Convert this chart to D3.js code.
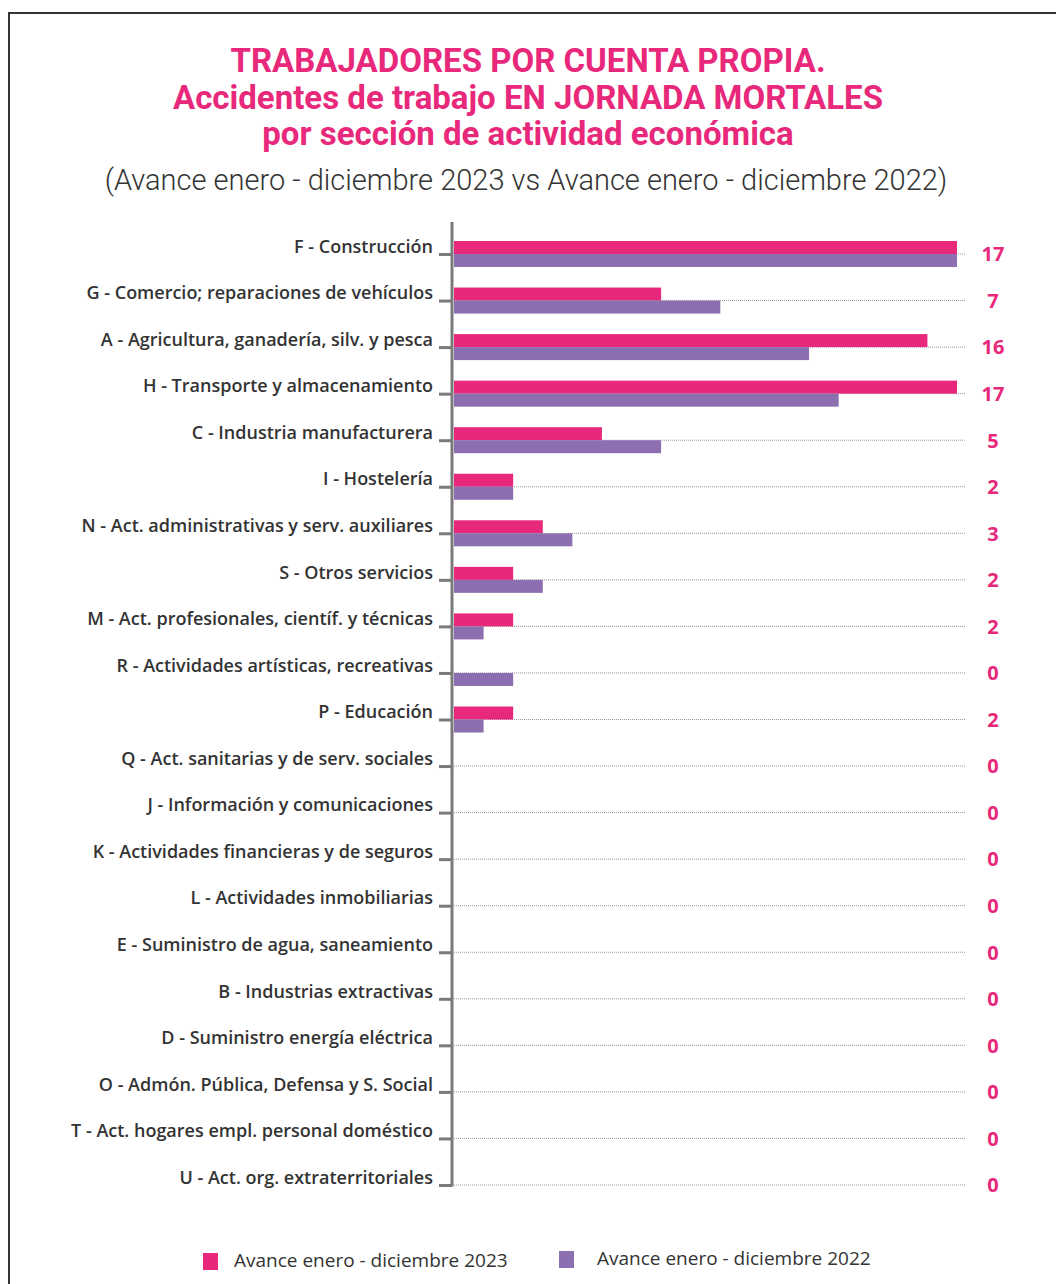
<!DOCTYPE html>
<html>
<head>
<meta charset="utf-8">
<script src="https://cdn.jsdelivr.net/npm/d3@7"></script>
<style>
  body { margin: 0; background: #fff; }
  svg { display: block; }
</style>
</head>
<body>
<div id="chart"></div>
<script>
var categories = [
  "F - Construcción",
  "G - Comercio; reparaciones de vehículos",
  "A - Agricultura, ganadería, silv. y pesca",
  "H - Transporte y almacenamiento",
  "C - Industria manufacturera",
  "I - Hostelería",
  "N - Act. administrativas y serv. auxiliares",
  "S - Otros servicios",
  "M - Act. profesionales, científ. y técnicas",
  "R - Actividades artísticas, recreativas",
  "P - Educación",
  "Q - Act. sanitarias y de serv. sociales",
  "J - Información y comunicaciones",
  "K - Actividades financieras y de seguros",
  "L - Actividades inmobiliarias",
  "E - Suministro de agua, saneamiento",
  "B - Industrias extractivas",
  "D - Suministro energía eléctrica",
  "O - Admón. Pública, Defensa y S. Social",
  "T - Act. hogares empl. personal doméstico",
  "U - Act. org. extraterritoriales"
];
var values2023 = [17, 7, 16, 17, 5, 2, 3, 2, 2, 0, 2, 0, 0, 0, 0, 0, 0, 0, 0, 0, 0];
var values2022 = [17, 9, 12, 13, 7, 2, 4, 3, 1, 2, 1, 0, 0, 0, 0, 0, 0, 0, 0, 0, 0];
var seriesNames = ["Avance enero - diciembre 2023", "Avance enero - diciembre 2022"];
var titleLines = [
  "TRABAJADORES POR CUENTA PROPIA.",
  "Accidentes de trabajo EN JORNADA MORTALES",
  "por sección de actividad económica"
];
var subtitle = "(Avance enero - diciembre 2023 vs  Avance enero - diciembre 2022)";

var W = 1056, H = 1284;
var pink = "#e8287a", purple = "#8c6fb0", textCol = "#333333", axisCol = "#7a7a7a";
var font = "Roboto, 'Noto Sans', sans-serif";
var labelFont = "'Open Sans', 'Noto Sans', sans-serif";

var svg = d3.select("#chart").append("svg")
  .attr("width", W)
  .attr("height", H);

// frame
svg.append("rect")
  .attr("x", 9).attr("y", 13)
  .attr("width", W + 10).attr("height", H + 10)
  .attr("fill", "none")
  .attr("stroke", "#333")
  .attr("stroke-width", 2);

// titles
svg.selectAll("text.title")
  .data(titleLines)
  .enter().append("text")
  .attr("class", "title")
  .attr("x", 528)
  .attr("y", (d, i) => 72 + i * 36.5)
  .attr("text-anchor", "middle")
  .style("font-family", font)
  .style("font-weight", "bold")
  .style("font-size", "33px")
  .attr("fill", pink)
  .text(d => d);

svg.append("text")
  .attr("x", 526)
  .attr("y", 190)
  .attr("text-anchor", "middle")
  .style("font-family", font)
  .style("font-size", "29px")
  .style("font-weight", 300)
  .attr("fill", textCol)
  .text(subtitle);

var x = d3.scaleLinear().domain([0, 17]).range([454, 957]);
var y = d3.scalePoint().domain(categories).range([254, 1185]);
var barH = 13;

// dotted guides
svg.selectAll("line.guide")
  .data(categories)
  .enter().append("line")
  .attr("class", "guide")
  .attr("x1", x(0)).attr("x2", 966)
  .attr("y1", d => y(d)).attr("y2", d => y(d))
  .attr("stroke", "#999")
  .attr("stroke-width", 1)
  .attr("stroke-dasharray", "1,1");

// bars 2023
svg.selectAll("rect.b23")
  .data(categories)
  .enter().append("rect")
  .attr("class", "b23")
  .attr("x", x(0))
  .attr("y", d => y(d) - barH)
  .attr("width", (d, i) => x(values2023[i]) - x(0))
  .attr("height", barH)
  .attr("fill", pink);

// bars 2022
svg.selectAll("rect.b22")
  .data(categories)
  .enter().append("rect")
  .attr("class", "b22")
  .attr("x", x(0))
  .attr("y", d => y(d))
  .attr("width", (d, i) => x(values2022[i]) - x(0))
  .attr("height", barH)
  .attr("fill", purple);

// axis
var axis = d3.axisLeft(y).tickSize(13).tickPadding(6);
var gAxis = svg.append("g")
  .attr("transform", "translate(452,0)")
  .call(axis);
gAxis.select(".domain").remove();
gAxis.append("line")
  .attr("x1", 0).attr("x2", 0)
  .attr("y1", 222).attr("y2", y(categories[categories.length - 1]) + 1.5)
  .attr("stroke", axisCol)
  .attr("stroke-width", 3);
gAxis.selectAll(".tick line")
  .attr("stroke", axisCol)
  .attr("stroke-width", 3);
gAxis.selectAll(".tick text")
  .attr("fill", textCol)
  .attr("dy", "-0.1em")
  .style("font-family", labelFont)
  .style("font-size", "18px")
  .style("font-weight", 600);

// value labels
svg.selectAll("text.val")
  .data(categories)
  .enter().append("text")
  .attr("class", "val")
  .attr("x", 993)
  .attr("y", d => y(d) + 2)
  .attr("text-anchor", "middle")
  .attr("dominant-baseline", "middle")
  .attr("fill", pink)
  .style("font-family", labelFont)
  .style("font-weight", "bold")
  .style("font-size", "20px")
  .text((d, i) => values2023[i]);

// legend
var legend = svg.selectAll("g.leg")
  .data(seriesNames)
  .enter().append("g")
  .attr("class", "leg")
  .attr("transform", (d, i) => "translate(" + (i === 0 ? 203 : 559) + "," + (i === 0 ? 1253 : 1251) + ")");
legend.append("rect")
  .attr("width", 15).attr("height", 17)
  .attr("fill", (d, i) => i === 0 ? pink : purple);
legend.append("text")
  .attr("x", (d, i) => 31 + i * 7)
  .attr("y", 14)
  .attr("fill", textCol)
  .style("font-family", labelFont)
  .style("font-size", "19px")
  .text(d => d);
</script>
</body>
</html>
